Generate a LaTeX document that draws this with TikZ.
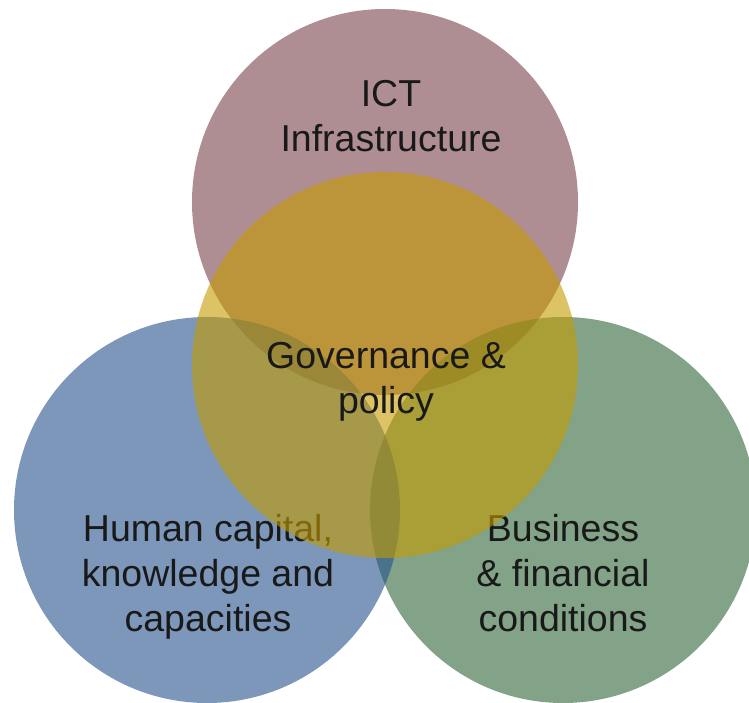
\documentclass[tikz,border=0pt]{standalone}
\usepackage{fontspec}
\setmainfont{Liberation Sans}
\definecolor{ictc}{RGB}{123,67,75}
\definecolor{humc}{RGB}{38,82,140}
\definecolor{busc}{RGB}{47,102,58}
\definecolor{govc}{RGB}{197,155,0}
\definecolor{txt}{RGB}{25,25,25}
\tikzset{
  venn/.style={circle, draw=none, inner sep=0pt, minimum size=386pt, fill opacity=0.6},
  lbl/.style={align=center, text=txt, inner sep=0pt, anchor=base,
    font=\fontsize{37.5}{45}\selectfont}
}
\begin{document}
\begin{tikzpicture}[x=1pt, y=-1pt]
\useasboundingbox (0,0) rectangle (749,703);
\fill[white] (0,0) rectangle (749,703);
\node[venn, fill=ictc] (ict) at (385,202) {};
\node[venn, fill=busc] (bus) at (563,510) {};
\node[venn, fill=humc] (hum) at (207,510) {};
\node[lbl] (humt) at (208,631) {Human capital,\\knowledge and\\capacities};
\node[lbl] (bust) at (563,631) {Business\\\& financial\\conditions};
\node[venn, fill=govc] (gov) at (385,365) {};
\node[lbl] (ictt) at (391,152) {ICT\\Infrastructure};
\node[lbl] (govt) at (386,413) {Governance \&\\policy};
\end{tikzpicture}
\end{document}
